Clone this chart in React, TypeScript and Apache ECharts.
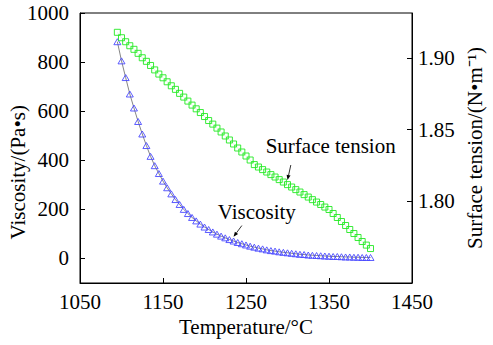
import { useEffect, useRef } from 'react';
import * as echarts from 'echarts';

const temperatures = [
  1095, 1100, 1105, 1110, 1115, 1120, 1125, 1130, 1135, 1140, 1145, 1150, 1155, 1160, 1165, 1170,
  1175, 1180, 1185, 1190, 1195, 1200, 1205, 1210, 1215, 1220, 1225, 1230, 1235, 1240, 1245, 1250,
  1255, 1260, 1265, 1270, 1275, 1280, 1285, 1290, 1295, 1300, 1305, 1310, 1315, 1320, 1325, 1330,
  1335, 1340, 1345, 1350, 1355, 1360, 1365, 1370, 1375, 1380, 1385, 1390, 1395, 1400,
];

const viscosity = [
  883, 805, 737, 670, 613, 558, 507, 460, 416, 378, 346, 315, 288, 263, 240, 220,
  200, 183, 167, 153, 140, 128, 118, 108, 99, 91, 84, 77, 71, 65, 60, 55,
  50, 46, 42, 39, 35, 32, 30, 27, 25, 23, 21, 19, 17, 16, 14, 13,
  12, 11, 10, 9, 8, 8, 7, 6, 6, 5, 5, 4, 4, 4,
];

const surfaceTension = [
  1.918, 1.9142, 1.9114, 1.9086, 1.9061, 1.9033, 1.9002, 1.8977, 1.8948, 1.8917, 1.8888, 1.8862,
  1.8834, 1.8806, 1.8781, 1.8753, 1.8727, 1.8699, 1.8671, 1.8645, 1.8619, 1.8591, 1.8563, 1.8538,
  1.851, 1.8483, 1.8455, 1.8427, 1.8399, 1.8371, 1.8343, 1.8315, 1.8287, 1.8255, 1.8238, 1.822,
  1.8203, 1.8185, 1.8168, 1.815, 1.8133, 1.8115, 1.8098, 1.808, 1.8063, 1.8045, 1.8028, 1.801,
  1.7993, 1.7976, 1.7958, 1.7941, 1.7913, 1.7885, 1.7857, 1.7829, 1.7801, 1.7773, 1.7745, 1.7717,
  1.7692, 1.7668,
];

const xTicks = [1050, 1150, 1250, 1350, 1450];
const viscosityTicks = [0, 200, 400, 600, 800, 1000];
const tensionTicks = [1.8, 1.85, 1.9];

// annotation anchors in data coordinates: [temperature, value], on yAxis "axis"
const viscosityLabel = { text: 'Viscosity', at: [1263, 188], axis: 0 };
const viscosityArrow = { from: [1245, 134], to: [1235, 88], axis: 0 };
const tensionLabel = { text: 'Surface tension', at: [1352, 1.8385], axis: 1 };
const tensionArrow = { from: [1304, 1.8252], to: [1300, 1.8147], axis: 1 };

const FONT = 'Liberation Serif, Times New Roman, Times, serif';
const FS = 21;

export default function App() {
  const ref = useRef<HTMLDivElement>(null);

  useEffect(() => {
    const chart = echarts.init(ref.current!, null, { renderer: 'svg' });
    const textStyle = { color: '#000', fontFamily: FONT, fontSize: FS };
    const seriesData = (vals: number[]) => temperatures.map((t, i) => [t, vals[i]]);
    const axisLine = { show: true, onZero: false, lineStyle: { color: '#000', width: 1 } };
    const tick = (vals: number[]) => ({
      show: true,
      inside: true,
      length: 5,
      customValues: vals,
      lineStyle: { color: '#000' },
    });

    chart.setOption({
      animation: false,
      backgroundColor: '#fff',
      textStyle: { fontFamily: FONT, fontSize: FS, color: '#000' },
      grid: {
        left: 80,
        right: 74,
        top: 13,
        bottom: 62,
        show: true,
        borderColor: '#000',
        borderWidth: 1,
        backgroundColor: 'transparent',
      },
      xAxis: {
        type: 'value',
        min: 1050,
        max: 1450,
        interval: 100,
        axisLine,
        axisTick: tick(xTicks),
        axisLabel: { show: false },
        splitLine: { show: false },
        name: 'Temperature/°C',
        nameLocation: 'middle',
        nameGap: 33,
        nameTextStyle: textStyle,
      },
      yAxis: [
        {
          type: 'value',
          min: -100,
          max: 1000,
          position: 'left',
          axisLine,
          axisTick: tick(viscosityTicks),
          axisLabel: { show: false },
          splitLine: { show: false },
        },
        {
          type: 'value',
          min: 1.7427,
          max: 1.9315,
          position: 'right',
          axisLine,
          axisTick: tick(tensionTicks),
          axisLabel: { show: false },
          splitLine: { show: false },
          name: 'Surface tension/(N•m⁻¹)',
          nameLocation: 'middle',
          nameGap: 52,
          nameTextStyle: textStyle,
        },
      ],
      series: [
        {
          name: 'Viscosity',
          type: 'line',
          yAxisIndex: 0,
          data: seriesData(viscosity),
          symbol: 'triangle',
          symbolSize: [7, 6],
          showAllSymbol: true,
          lineStyle: { color: '#666', width: 0.8 },
          itemStyle: { color: 'rgba(0,0,0,0)', borderColor: '#4a4aff', borderWidth: 0.9 },
          z: 3,
        },
        {
          name: 'Surface tension',
          type: 'line',
          yAxisIndex: 1,
          data: seriesData(surfaceTension),
          symbol: 'rect',
          symbolSize: 6,
          showAllSymbol: true,
          lineStyle: { color: '#33ee33', width: 0.5, opacity: 0.3 },
          itemStyle: { color: 'rgba(0,0,0,0)', borderColor: '#22ea22', borderWidth: 0.9 },
          z: 3,
        },
      ],
    });

    const px = (p: number[], axis: number) =>
      chart.convertToPixel({ xAxisIndex: 0, yAxisIndex: axis }, p) as number[];

    const txt = (text: string, x: number, y: number, align: string, va: string, rotation = 0) => ({
      type: 'text',
      x,
      y,
      rotation,
      style: {
        text,
        fill: '#000',
        font: `${FS}px ${FONT}`,
        align,
        verticalAlign: va,
      },
      z: 10,
    });

    const arrow = (a: { from: number[]; to: number[]; axis: number }) => {
      const p0 = px(a.from, a.axis);
      const p1 = px(a.to, a.axis);
      const dx = p1[0] - p0[0];
      const dy = p1[1] - p0[1];
      const len = Math.hypot(dx, dy) || 1;
      const ux = dx / len;
      const uy = dy / len;
      const hl = 5;
      const hw = 2;
      const bx = p1[0] - ux * hl;
      const by = p1[1] - uy * hl;
      return [
        {
          type: 'line',
          shape: { x1: p0[0], y1: p0[1], x2: bx, y2: by },
          style: { stroke: '#000', lineWidth: 0.8 },
          z: 10,
        },
        {
          type: 'polygon',
          shape: {
            points: [
              [p1[0], p1[1]],
              [bx - uy * hw, by + ux * hw],
              [bx + uy * hw, by - ux * hw],
            ],
          },
          style: { fill: '#000' },
          z: 10,
        },
      ];
    };

    const label = (l: { text: string; at: number[]; axis: number }) => {
      const p = px(l.at, l.axis);
      return txt(l.text, p[0], p[1], 'center', 'middle');
    };

    const bottomLeft = px([1050, -100], 0);
    const topLeft = px([1050, 1000], 0);
    const rightX = px([1450, -100], 0)[0];

    const xLabels = xTicks.map((t) => txt(String(t), px([t, 0], 0)[0], bottomLeft[1] + 8, 'center', 'top'));
    const yLabels = viscosityTicks.map((v) =>
      txt(String(v), bottomLeft[0] - 11, px([1050, v], 0)[1], 'right', 'middle'),
    );
    const rLabels = tensionTicks.map((v) =>
      txt(v.toFixed(2), rightX + 6, px([1450, v], 1)[1], 'left', 'middle'),
    );

    chart.setOption({
      graphic: [
        ...xLabels,
        ...yLabels,
        ...rLabels,
        txt(
          'Viscosity/(Pa•s)',
          18,
          bottomLeft[1] - (bottomLeft[1] - topLeft[1]) * 0.41,
          'center',
          'middle',
          Math.PI / 2,
        ),
        label(viscosityLabel),
        ...arrow(viscosityArrow),
        label(tensionLabel),
        ...arrow(tensionArrow),
      ],
    });

    return () => chart.dispose();
  }, []);

  return (
    <div
      ref={ref}
      style={{ position: 'fixed', left: 0, top: 0, width: 493, height: 345, background: '#fff' }}
    />
  );
}
